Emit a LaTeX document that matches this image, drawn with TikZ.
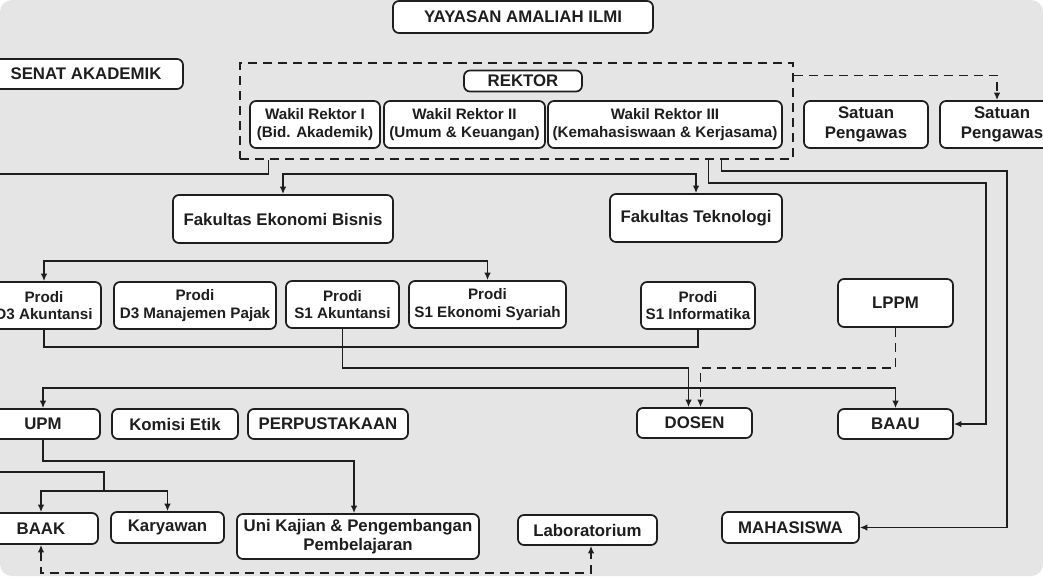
\documentclass[tikz,border=0pt]{standalone}
\usepackage{fontspec}
\setmainfont{Liberation Sans}
\usepackage{tikz}
\usetikzlibrary{arrows.meta}
\definecolor{bggray}{HTML}{E5E5E5}
\definecolor{ink}{HTML}{1E1E1E}
\tikzstyle{box}=[draw=ink,fill=white,rounded corners=6pt,line width=1.7pt,inner sep=0pt,align=center,text=ink,font=\fontsize{16.8}{19.5}\selectfont\bfseries]
\tikzstyle{small box}=[box,font=\fontsize{15.2}{17.5}\selectfont\bfseries]
\tikzstyle{group}=[draw=ink,line width=1.5pt,dash pattern=on 9pt off 6pt,inner sep=0pt]
\tikzstyle{link}=[draw=ink,line width=1.5pt]
\tikzstyle{arrow}=[link,-{Latex[length=7.5pt,width=6.5pt]}]
\tikzstyle{twoway}=[link,{Latex[length=7.5pt,width=6.5pt]}-{Latex[length=7.5pt,width=6.5pt]}]
\tikzstyle{dasharrow}=[arrow,dash pattern=on 9pt off 6pt]
\tikzstyle{dasharrows}=[twoway,dash pattern=on 9pt off 6pt]

\begin{document}
\begin{tikzpicture}[x=1pt,y=-1pt]
    \useasboundingbox (0,0) rectangle (1043,576);
    \fill[bggray,rounded corners=12pt] (0,0) rectangle (1043,576);
    % rektorat
    \node[group,minimum width=553pt,minimum height=96pt] (rekgroup) at (516.5,111) {};
    \foreach \pos/\name/\bw/\bh/\txt in {{(523,17)/yayasan/260/32/YAYASAN AMALIAH ILMI},
        {(86,74)/senat/194/30/SENAT AKADEMIK}, {(523,81)/rektor/118/21/REKTOR},
        {(866,124.5)/spone/124/47/{Satuan\\Pengawas}}, {(1002,124.5)/sptwo/124/47/{Satuan\\Pengawas}},
        {(283,219)/feb/220/48/Fakultas Ekonomi Bisnis}, {(696,218)/ft/172/48/Fakultas Teknologi},
        {(895.5,303)/lppm/115/48/LPPM}, {(43,424)/upm/114/30/UPM},
        {(175,424)/komisi/126/30/Komisi Etik}, {(328,424)/perpus/160/30/PERPUSTAKAAN},
        {(694.5,423)/dosen/115/30/DOSEN}, {(895.5,424)/baau/115/30/BAAU},
        {(41,528.5)/baak/114/31/BAAK}, {(167.5,527.5)/karyawan/113/31/Karyawan},
        {(358,536.5)/unikajian/242/45/{Uni Kajian \& Pengembangan\\Pembelajaran}},
        {(587.5,530)/lab/139/30/Laboratorium}, {(790.5,527.5)/mahasiswa/137/31/MAHASISWA}}
        \node[box,minimum width=\bw pt,minimum height=\bh pt] (\name) at \pos {\txt};
    \foreach \pos/\name/\bw/\txt in {{(315,124.5)/wra/130/{Wakil Rektor I\\(Bid. Akademik)}},
        {(464.5,124.5)/wrb/161/{Wakil Rektor II\\(Umum \& Keuangan)}},
        {(665,124.5)/wrc/234/{Wakil Rektor III\\(Kemahasiswaan \& Kerjasama)}},
        {(44,305.5)/dak/114/{Prodi\\D3 Akuntansi}}, {(195,305.5)/dmp/162/{Prodi\\D3 Manajemen Pajak}},
        {(342.5,304.5)/sak/113/{Prodi\\S1 Akuntansi}}, {(487.5,304.5)/ses/157/{Prodi\\S1 Ekonomi Syariah}},
        {(698,305.5)/sif/114/{Prodi\\S1 Informatika}}}
        \node[small box,minimum width=\bw pt,minimum height=47pt] (\name) at \pos {\txt};
    \coordinate (lefta) at (-10,174);
    \coordinate (leftb) at (-10,472);
    % connectors
    \draw[dasharrow] ([yshift=-13pt]rekgroup.north east) -| ([xshift=-5pt]sptwo.north);
    \draw[link] ([xshift=29pt]rekgroup.south west) |- (lefta);
    \draw[twoway] (feb.north) -- ++(0,-20) -| (ft.north);
    \draw[arrow] ([xshift=469pt]rekgroup.south west) |- (986,183) |- (baau.east);
    \draw[arrow] ([xshift=482pt]rekgroup.south west) |- (1007,171) |- (mahasiswa.east);
    \draw[twoway] (dak.north) -- ++(0,-20) -| (ses.north);
    \draw[link] (dak.south) -- ++(0,17) -| (sif.south);
    \draw[arrow] (sak.south) -- ++(0,39) -| ([xshift=-6pt]dosen.north);
    \draw[dasharrow] (lppm.south) -- ++(0,40) -| ([xshift=6pt]dosen.north);
    \draw[twoway] (upm.north) -- ++(0,-20) -| (baau.north);
    \draw[arrow] (upm.south) -- ++(0,21) -| ([xshift=-4pt]unikajian.north);
    \draw[link] (leftb) -| (104,492);
    \draw[twoway] (baak.north) -- ++(0,-21) -| (karyawan.north);
    \draw[dasharrows] (baak.south) -- ++(0,28) -| ([xshift=3.5pt]lab.south);
\end{tikzpicture}
\end{document}
